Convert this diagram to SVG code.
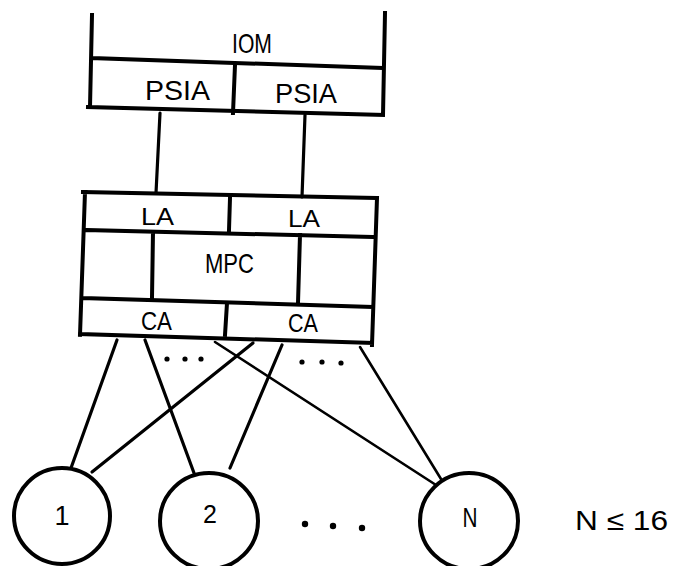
<svg xmlns="http://www.w3.org/2000/svg" width="674" height="566" viewBox="0 0 674 566">
<style>
.box{fill:none;stroke:#000;stroke-width:4;stroke-linecap:square;}
.ln{stroke:#000;stroke-width:3.2;stroke-linecap:round;fill:none;}
.thin{stroke:#000;stroke-width:2.6;stroke-linecap:round;fill:none;}
.node{fill:#fff;stroke:#000;stroke-width:4;}
.t{font-family:"Liberation Sans",Arial,sans-serif;fill:#000;}
.dot{fill:#000;}
</style>
<rect width="674" height="566" fill="#fff"/>
<g id="IOM">
<path class="box" d="M92,15 L90,107 M385,13 L383,115 M92,58 L383,68 M88,107 L383,115"/>
<text class="t" x="232" y="53" font-size="28" textLength="40" lengthAdjust="spacingAndGlyphs">IOM</text>
</g>
<g id="PSIA1">
<path class="box" d="M235,65 L233,113"/>
<text class="t" x="145" y="100" font-size="28" textLength="65" lengthAdjust="spacingAndGlyphs">PSIA</text>
</g>
<g id="PSIA2">
<text class="t" x="275" y="103" font-size="28" textLength="62" lengthAdjust="spacingAndGlyphs">PSIA</text>
</g>
<g id="MPC">
<path class="box" d="M83,192 L377,198 M85,192 L80,335 M377,198 L372,345 M87,230 L373,237 M153,232 L152,298 M300,235 L298,303 M83,298 L373,307 M80,334 L372,343"/>
<text class="t" x="205" y="273" font-size="28" textLength="49" lengthAdjust="spacingAndGlyphs">MPC</text>
</g>
<g id="LA1">
<path class="box" d="M230,198 L229,230"/>
<text class="t" x="141" y="225" font-size="23" textLength="33" lengthAdjust="spacingAndGlyphs">LA</text>
</g>
<g id="LA2">
<text class="t" x="288" y="227" font-size="23" textLength="32" lengthAdjust="spacingAndGlyphs">LA</text>
</g>
<g id="CA1">
<path class="box" d="M227,303 L225,335"/>
<text class="t" x="141" y="330" font-size="25" textLength="31" lengthAdjust="spacingAndGlyphs">CA</text>
</g>
<g id="CA2">
<text class="t" x="288" y="332" font-size="25" textLength="30" lengthAdjust="spacingAndGlyphs">CA</text>
</g>
<g id="connectors">
<line class="ln" x1="160" y1="113" x2="156" y2="193"/>
<line class="ln" x1="305" y1="115" x2="302" y2="197"/>
<line class="ln" x1="117" y1="340" x2="71" y2="468"/>
<line class="ln" x1="145" y1="340" x2="194" y2="473"/>
<line class="ln" x1="253" y1="343" x2="92" y2="472"/>
<line class="thin" x1="215" y1="342" x2="436" y2="485"/>
<line class="ln" x1="282" y1="345" x2="230" y2="468"/>
<line class="thin" x1="360" y1="347" x2="441" y2="479"/>
</g>
<g id="dots">
<circle class="dot" cx="167" cy="359" r="2.6"/>
<circle class="dot" cx="185" cy="359" r="2.6"/>
<circle class="dot" cx="201" cy="359" r="2.6"/>
<circle class="dot" cx="302" cy="362" r="2.6"/>
<circle class="dot" cx="322" cy="362" r="2.6"/>
<circle class="dot" cx="341" cy="363" r="2.6"/>
<circle class="dot" cx="305" cy="524" r="3.2"/>
<circle class="dot" cx="333" cy="526" r="3.2"/>
<circle class="dot" cx="362" cy="528" r="3.2"/>
</g>
<g id="node1">
<ellipse class="node" cx="62" cy="516" rx="48" ry="48"/>
<text class="t" x="62" y="525" font-size="27" text-anchor="middle">1</text>
</g>
<g id="node2">
<ellipse class="node" cx="209" cy="521" rx="49" ry="48"/>
<text class="t" x="210" y="523" font-size="25" text-anchor="middle">2</text>
</g>
<g id="nodeN">
<ellipse class="node" cx="469" cy="521" rx="49" ry="48"/>
<text class="t" x="470" y="527" font-size="28" text-anchor="middle" textLength="15" lengthAdjust="spacingAndGlyphs">N</text>
</g>
<text class="t" x="575" y="530" font-size="28" textLength="93" lengthAdjust="spacingAndGlyphs">N ≤ 16</text>
</svg>
